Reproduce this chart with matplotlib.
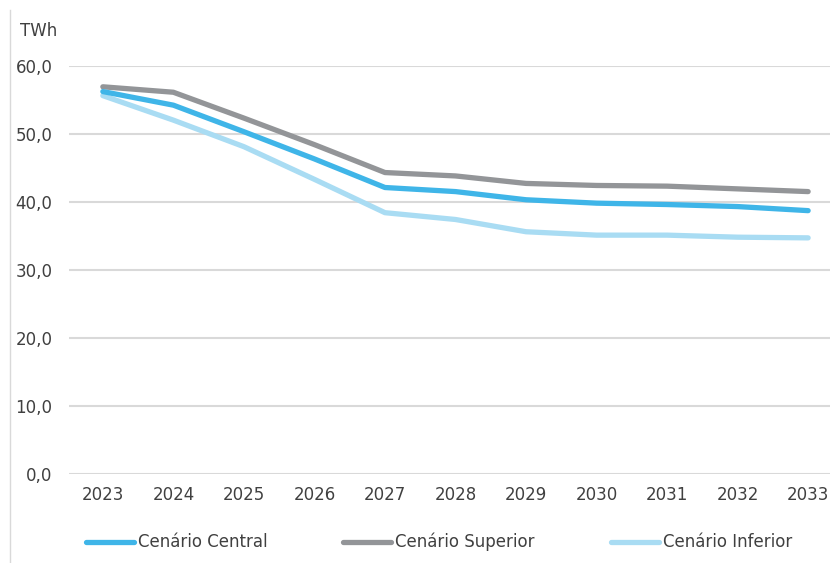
import matplotlib.pyplot as plt
from matplotlib.lines import Line2D

# dados (TWh)
anos = [2023, 2024, 2025, 2026, 2027, 2028, 2029, 2030, 2031, 2032, 2033]
central = [56.2, 54.2, 50.3, 46.3, 42.1, 41.5, 40.3, 39.8, 39.6, 39.3, 38.7]
superior = [56.9, 56.1, 52.3, 48.4, 44.3, 43.8, 42.7, 42.4, 42.3, 41.9, 41.5]
inferior = [55.6, 52.0, 48.1, 43.3, 38.4, 37.4, 35.6, 35.1, 35.1, 34.8, 34.7]
yticks = [0, 10, 20, 30, 40, 50, 60]
nomes = ['Cenário Central', 'Cenário Superior', 'Cenário Inferior']

W, H = 830, 563
fig = plt.figure(figsize=(W / 100, H / 100), dpi=100)
ax = fig.add_axes([69 / W, (H - 474) / H, (830 - 69) / W, (474 - 65.7) / H])

cores = ['#3FB5E8', '#939598', '#A9DCF3']
ax.plot(anos, inferior, color=cores[2], lw=3.8, solid_capstyle='round', zorder=3)
ax.plot(anos, superior, color=cores[1], lw=3.8, solid_capstyle='round', zorder=3)
ax.plot(anos, central, color=cores[0], lw=3.8, solid_capstyle='round', zorder=4)

ax.set_xlim(2022.52, 2033.31)
ax.set_ylim(0, 60)
ax.set_yticks(yticks)
ax.set_yticklabels([f'{v:.1f}'.replace('.', ',') for v in yticks])
ax.set_xticks(anos)
ax.set_xticklabels([str(a) for a in anos])
ax.grid(axis='y', color='#D9D9D9', lw=1.5)
ax.set_axisbelow(True)
for s in ax.spines.values():
    s.set_visible(False)
ax.tick_params(length=0, labelsize=12, colors='#404040', pad=9)
ax.tick_params(axis='y', pad=12)

fig.text(20 / W, 1 - 31 / H, 'TWh', fontsize=12, color='#404040', va='center')

# legenda (desenhada à mão para acertar posições)
ly = 1 - 542 / H
for x0, nome, cor in zip([86, 343, 611], nomes, cores):
    fig.add_artist(Line2D([x0 / W, (x0 + 48) / W], [ly, ly], color=cor, lw=3.8,
                          solid_capstyle='round'))
    fig.text((x0 + 52) / W, ly, nome, fontsize=12, color='#404040', va='center')

# borda esquerda
fig.add_artist(Line2D([9.5 / W, 9.5 / W], [0, 1 - 10 / H], color='#D9D9D9', lw=1))

fig.savefig('out.png', dpi=100)
